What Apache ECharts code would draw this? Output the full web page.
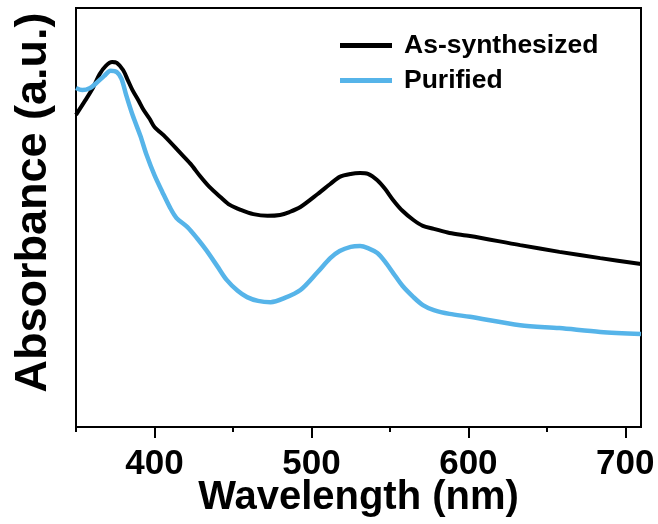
<!DOCTYPE html>
<html>
<head>
<meta charset="utf-8">
<script src="https://cdn.jsdelivr.net/npm/echarts@6/dist/echarts.min.js"></script>
<style>html,body{margin:0;padding:0;background:#fff;}#c{width:658px;height:524px;}</style>
</head>
<body>
<div id="c"></div>
<script>
var seriesNames = ['As-synthesized', 'Purified'];
var waveBlack = [350, 356, 361, 365, 369, 373, 376, 380, 383, 386, 390, 393, 397, 400, 407, 416, 423, 429, 435, 442, 448, 455, 463, 472, 480, 486, 493, 504, 512, 518, 525, 531, 536, 542, 547, 552, 558, 565, 571, 578, 588, 601, 633, 658, 684, 710];
var absBlack = [0.745, 0.780, 0.811, 0.842, 0.862, 0.871, 0.869, 0.852, 0.828, 0.804, 0.778, 0.757, 0.735, 0.716, 0.692, 0.656, 0.628, 0.599, 0.573, 0.549, 0.530, 0.518, 0.508, 0.504, 0.506, 0.513, 0.525, 0.556, 0.580, 0.597, 0.604, 0.606, 0.604, 0.589, 0.568, 0.542, 0.516, 0.494, 0.480, 0.473, 0.463, 0.456, 0.434, 0.418, 0.403, 0.389];
var waveBlue = [350, 354, 359, 363, 368, 372, 376, 379, 382, 386, 391, 395, 400, 405, 410, 414, 421, 427, 433, 440, 446, 453, 459, 466, 474, 483, 493, 504, 512, 518, 525, 531, 536, 542, 547, 552, 558, 565, 571, 578, 588, 601, 633, 658, 684, 710];
var absBlue = [0.809, 0.804, 0.809, 0.821, 0.838, 0.850, 0.847, 0.831, 0.792, 0.745, 0.695, 0.649, 0.601, 0.561, 0.523, 0.499, 0.477, 0.451, 0.422, 0.384, 0.351, 0.325, 0.310, 0.301, 0.298, 0.308, 0.327, 0.370, 0.403, 0.420, 0.430, 0.432, 0.427, 0.415, 0.394, 0.368, 0.337, 0.310, 0.291, 0.279, 0.270, 0.263, 0.243, 0.236, 0.227, 0.222];
var majorTicks = [400, 500, 600, 700];
var minorTicks = [350, 450, 550, 650];

function pairs(xs, ys) { return xs.map(function (x, i) { return [x, ys[i]]; }); }

var FONT = "'Liberation Sans', Arial, sans-serif";
var chart = echarts.init(document.getElementById('c'), null, {renderer: 'canvas'});
chart.setOption({
  animation: false,
  backgroundColor: '#fff',
  grid: {left: 76, right: 17, top: 8, bottom: 97, outerBoundsMode: 'none', containLabel: false,
         show: true, borderColor: '#000', borderWidth: 2, backgroundColor: 'transparent'},
  legend: {
    orient: 'vertical', left: 335, top: 27, itemGap: 8,
    itemWidth: 52, itemHeight: 5, icon: 'rect',
    textStyle: {fontFamily: FONT, fontWeight: 'bold', fontSize: 26.5, color: '#000', padding: [0, 0, 0, 7]},
    data: seriesNames
  },
  xAxis: [{
    type: 'value', min: 350, max: 710, interval: 50,
    name: 'Wavelength (nm)', nameLocation: 'middle', nameGap: 51, nameMoveOverlap: false,
    nameTextStyle: {fontFamily: FONT, fontWeight: 'bold', fontSize: 40, color: '#000'},
    axisLine: {show: true, lineStyle: {color: '#000', width: 2}},
    axisTick: {show: true, customValues: majorTicks, length: 11, lineStyle: {color: '#000', width: 2}},
    axisLabel: {customValues: majorTicks, margin: 20, fontFamily: FONT, fontWeight: 'bold', fontSize: 35, color: '#000'},
    splitLine: {show: false}
  }, {
    type: 'value', min: 350, max: 710, interval: 50, position: 'bottom',
    axisLine: {show: false},
    axisTick: {show: true, customValues: minorTicks, length: 5, lineStyle: {color: '#000', width: 2}},
    axisLabel: {show: false},
    splitLine: {show: false}
  }],
  yAxis: {
    type: 'value', min: 0, max: 1,
    name: 'Absorbance (a.u.)', nameLocation: 'middle', nameGap: 20, nameMoveOverlap: false,
    nameTextStyle: {fontFamily: FONT, fontWeight: 'bold', fontSize: 45, color: '#000', padding: [0, 0, 0, 30]},
    axisLine: {show: true, lineStyle: {color: '#000', width: 2}},
    axisTick: {show: false}, axisLabel: {show: false}, splitLine: {show: false}
  },
  series: [{
    name: seriesNames[0], type: 'line', smooth: 0.3, showSymbol: false,
    data: pairs(waveBlack, absBlack),
    lineStyle: {color: '#000', width: 4}, itemStyle: {color: '#000'}
  }, {
    name: seriesNames[1], type: 'line', smooth: 0.3, showSymbol: false,
    data: pairs(waveBlue, absBlue),
    lineStyle: {color: '#56b4e9', width: 4.5}, itemStyle: {color: '#56b4e9'}
  }]
});
</script>
</body>
</html>
